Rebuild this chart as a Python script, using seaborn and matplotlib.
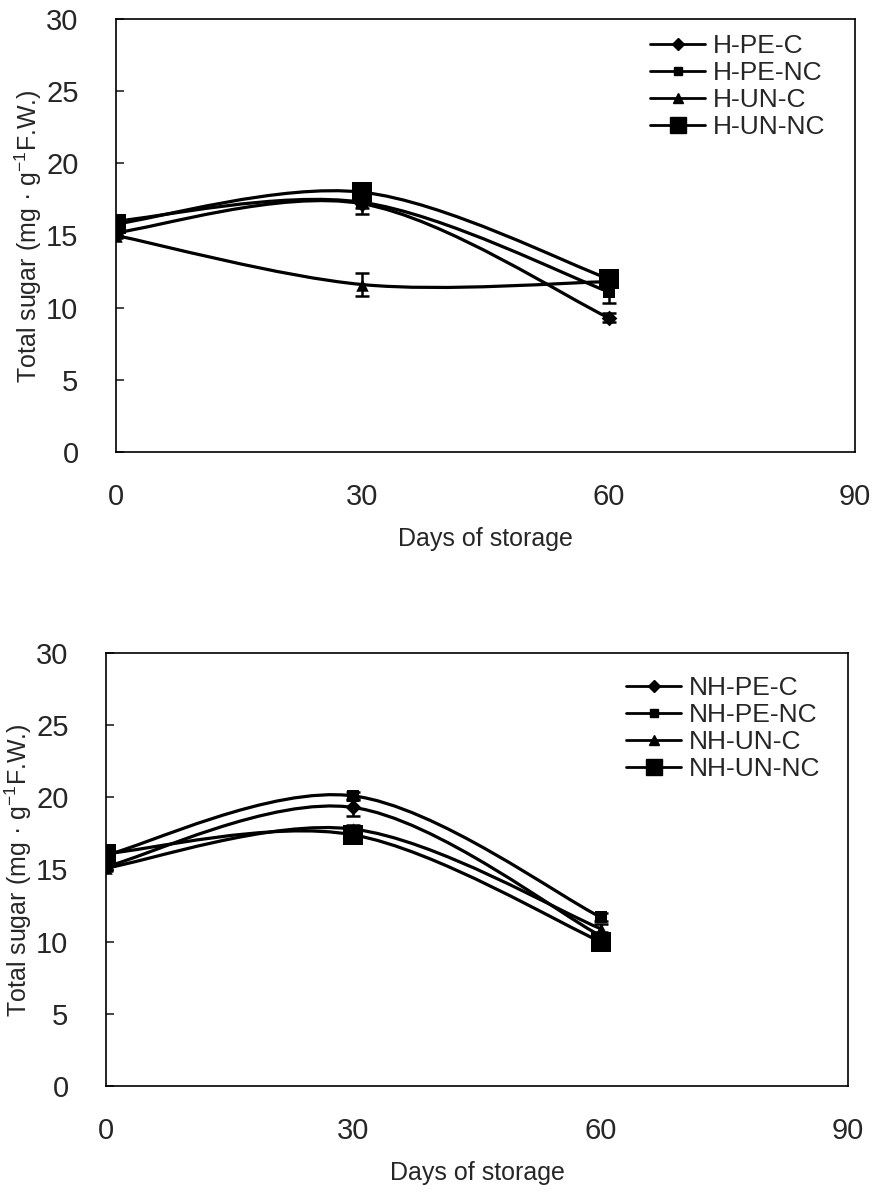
import numpy as np
import matplotlib
matplotlib.use("Agg")
import matplotlib.pyplot as plt
import seaborn as sns
import pandas as pd
from matplotlib.path import Path
from matplotlib.patches import PathPatch
from matplotlib.lines import Line2D

# ---------------- data ----------------
days = [0, 30, 60]

top_labels = ["H-PE-C", "H-PE-NC", "H-UN-C", "H-UN-NC"]
top_values = {
    "H-PE-C":  [15.2, 17.2, 9.3],
    "H-PE-NC": [16.0, 17.3, 11.1],
    "H-UN-C":  [15.0, 11.6, 11.8],
    "H-UN-NC": [15.8, 18.0, 12.0],
}
top_errors = {
    "H-PE-C":  [0.2, 0.3, 0.3],
    "H-PE-NC": [0.2, 0.8, 0.8],
    "H-UN-C":  [0.2, 0.8, 0.3],
    "H-UN-NC": [0.2, 0.5, 0.4],
}

bot_labels = ["NH-PE-C", "NH-PE-NC", "NH-UN-C", "NH-UN-NC"]
bot_values = {
    "NH-PE-C":  [15.2, 19.3, 10.4],
    "NH-PE-NC": [16.0, 20.1, 11.7],
    "NH-UN-C":  [15.1, 17.8, 10.9],
    "NH-UN-NC": [16.1, 17.4, 10.0],
}
bot_errors = {
    "NH-PE-C":  [0.2, 0.6, 0.3],
    "NH-PE-NC": [0.2, 0.3, 0.3],
    "NH-UN-C":  [0.2, 0.3, 0.3],
    "NH-UN-NC": [0.2, 0.3, 0.3],
}

markers = ["D", "s", "^", "s"]
msizes = [8, 8, 9, 14]

xticks = [0, 30, 60, 90]
yticks = [0, 5, 10, 15, 20, 25, 30]
xlabel = "Days of storage"
ylabel = "Total sugar (mg \u00b7 g$^{-1}$F.W.)"

# ---------------- style ----------------
sns.set_style("white")
FONT = ["Liberation Sans", "DejaVu Sans"]
plt.rcParams["font.family"] = FONT
plt.rcParams["mathtext.fontset"] = "custom"
plt.rcParams["mathtext.rm"] = "Liberation Sans"
plt.rcParams["mathtext.it"] = "Liberation Sans"
plt.rcParams["mathtext.bf"] = "Liberation Sans"


def smooth_path(xs, ys):
    """Excel-like smoothed Bezier path through the data points."""
    pts = np.column_stack([xs, ys]).astype(float)
    n = len(pts)
    verts = [pts[0]]
    codes = [Path.MOVETO]
    for i in range(n - 1):
        p0 = pts[i - 1] if i > 0 else pts[i]
        p1 = pts[i]
        p2 = pts[i + 1]
        p3 = pts[i + 2] if i + 2 < n else pts[i + 1]
        c1 = p1 + (p2 - p0) / 6.0
        c2 = p2 - (p3 - p1) / 6.0
        verts += [c1, c2, p2]
        codes += [Path.CURVE4] * 3
    return Path(verts, codes)


def draw_panel(ax, labels, values, errors, legend_anchor):
    rows = []
    for lab in labels:
        for d, v in zip(days, values[lab]):
            rows.append({"day": d, "value": v, "series": lab})
    df = pd.DataFrame(rows)

    for i, lab in enumerate(labels):
        path = smooth_path(days, values[lab])
        ax.add_patch(PathPatch(path, facecolor="none", edgecolor="black",
                               lw=2.3, zorder=2))
        ax.errorbar(days, values[lab], yerr=errors[lab], fmt="none",
                    ecolor="black", elinewidth=1.8, capsize=5, capthick=1.8,
                    zorder=3)
        sub = df[df["series"] == lab]
        sns.scatterplot(data=sub, x="day", y="value", marker=markers[i],
                        s=msizes[i] ** 2, color="black", edgecolor="black",
                        linewidth=0, ax=ax, zorder=4, legend=False)

    ax.set_xlim(0, 90)
    ax.set_ylim(0, 30)
    ax.set_xticks(xticks)
    ax.set_yticks(yticks)
    ax.tick_params(axis="y", direction="in", length=6, width=1.2,
                   pad=27, labelsize=21, left=True)
    ax.tick_params(axis="x", length=0, pad=22, labelsize=21)
    ax.set_xlabel(xlabel, fontsize=18, labelpad=12)
    ax.set_ylabel("")
    for sp in ax.spines.values():
        sp.set_visible(True)
        sp.set_color("black")
        sp.set_linewidth(1.2)

    handles = [Line2D([0], [0], color="black", lw=2.0, marker=markers[i],
                      markersize=msizes[i] * 0.8, markerfacecolor="black",
                      markeredgecolor="black") for i in range(len(labels))]
    ax.legend(handles, labels, loc="upper left", bbox_to_anchor=legend_anchor,
              bbox_transform=ax.figure.transFigure, frameon=False,
              fontsize=19, handlelength=2.1, handletextpad=0.3,
              labelspacing=0.12, borderpad=0, borderaxespad=0)


fig = plt.figure(figsize=(8.73, 11.92), dpi=100)
ax1 = fig.add_axes([116 / 873, 1 - 452 / 1192, (855 - 116) / 873, 433 / 1192])
ax2 = fig.add_axes([106 / 873, 1 - 1086 / 1192, (848 - 106) / 873, 433 / 1192])

draw_panel(ax1, top_labels, top_values, top_errors,
           (650 / 873, 1 - 34 / 1192))
draw_panel(ax2, bot_labels, bot_values, bot_errors,
           (626 / 873, 1 - 676 / 1192))

fig.text(28 / 873, 1 - 236 / 1192, ylabel, rotation=90, fontsize=18,
         ha="center", va="center")
fig.text(18 / 873, 1 - 870 / 1192, ylabel, rotation=90, fontsize=18,
         ha="center", va="center")

fig.savefig("out.png", dpi=100)
